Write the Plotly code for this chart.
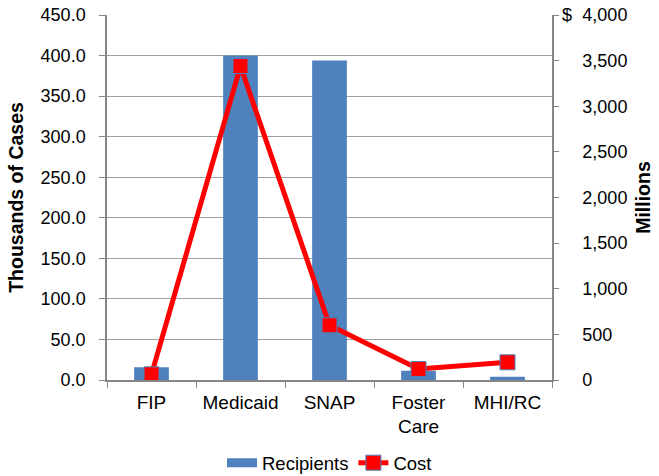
import plotly.graph_objects as go

categories = ["FIP", "Medicaid", "SNAP", "Foster<br>Care", "MHI/RC"]
recipients = [15.7, 400.0, 394.0, 11.5, 4.1]
cost = [62, 3440, 600, 121, 194]
left_ticks = [0, 50, 100, 150, 200, 250, 300, 350, 400, 450]
right_ticks = [0, 500, 1000, 1500, 2000, 2500, 3000, 3500, 4000]
right_ticktext = ["0", "500", "1,000", "1,500", "2,000", "2,500", "3,000", "3,500", "4,000"]

FONT = "Liberation Sans, Arial, sans-serif"
GRID = "#a0a0a0"
AXIS = "#868686"
BLUE = "#4f81bd"

fig = go.Figure()
fig.add_trace(go.Bar(
    x=categories, y=recipients, name="Recipients",
    marker=dict(color=BLUE, line=dict(width=0)),
    width=0.39, yaxis="y", showlegend=False,
))
# legend entry styled like the reference's wide blue swatch
fig.add_trace(go.Scatter(
    x=[None], y=[None], name="Recipients", mode="lines",
    line=dict(color=BLUE, width=9), yaxis="y",
))
fig.add_trace(go.Scatter(
    x=categories, y=cost, name="Cost", yaxis="y2",
    mode="lines+markers",
    line=dict(color="#ff0000", width=5),
    marker=dict(symbol="square", size=15, color="#ff0000",
                line=dict(color=BLUE, width=1)),
))

fig.update_layout(
    width=659, height=476,
    margin=dict(l=107, r=107, t=15, b=96),
    plot_bgcolor="white", paper_bgcolor="white",
    font=dict(family=FONT, size=18, color="#000000"),
    showlegend=True,
    legend=dict(orientation="h", x=0.5, xanchor="center",
                yref="container", y=0.027, yanchor="middle",
                font=dict(size=18.5), traceorder="normal"),
    xaxis=dict(
        type="category", tickson="boundaries", ticks="outside", ticklen=6,
        tickcolor=AXIS, showline=True, linecolor=AXIS, linewidth=1.5,
        showgrid=False, tickfont=dict(size=19), automargin=False,
        ticklabelstandoff=4,
    ),
    yaxis=dict(
        range=[0, 450], tickvals=left_ticks, tickformat=".1f",
        ticks="outside", ticklen=6, tickcolor=AXIS,
        showline=True, linecolor=AXIS, linewidth=1.5,
        showgrid=True, gridcolor=GRID, gridwidth=1,
        zeroline=False, automargin=False, ticklabelstandoff=10,
        tickfont=dict(size=18),
        title=dict(text="<b>Thousands of Cases</b>", font=dict(size=19.5), standoff=12),
    ),
    yaxis2=dict(
        range=[0, 4000], tickvals=right_ticks, ticktext=right_ticktext,
        overlaying="y", side="right",
        ticks="outside", ticklen=5, tickcolor=AXIS,
        showline=True, linecolor=AXIS, linewidth=1.5,
        showgrid=False, zeroline=False, automargin=False,
        ticklabelstandoff=20, tickfont=dict(size=18),
        title=dict(text="<b>Millions</b>", font=dict(size=19.5), standoff=10),
    ),
)

fig.add_annotation(
    x=1, xref="paper", y=4000, yref="y2", text="$",
    showarrow=False, xanchor="left", xshift=8, font=dict(size=18),
)

fig.write_html("out.html", config={"displayModeBar": False},
               post_script="document.body.style.margin='0';")
